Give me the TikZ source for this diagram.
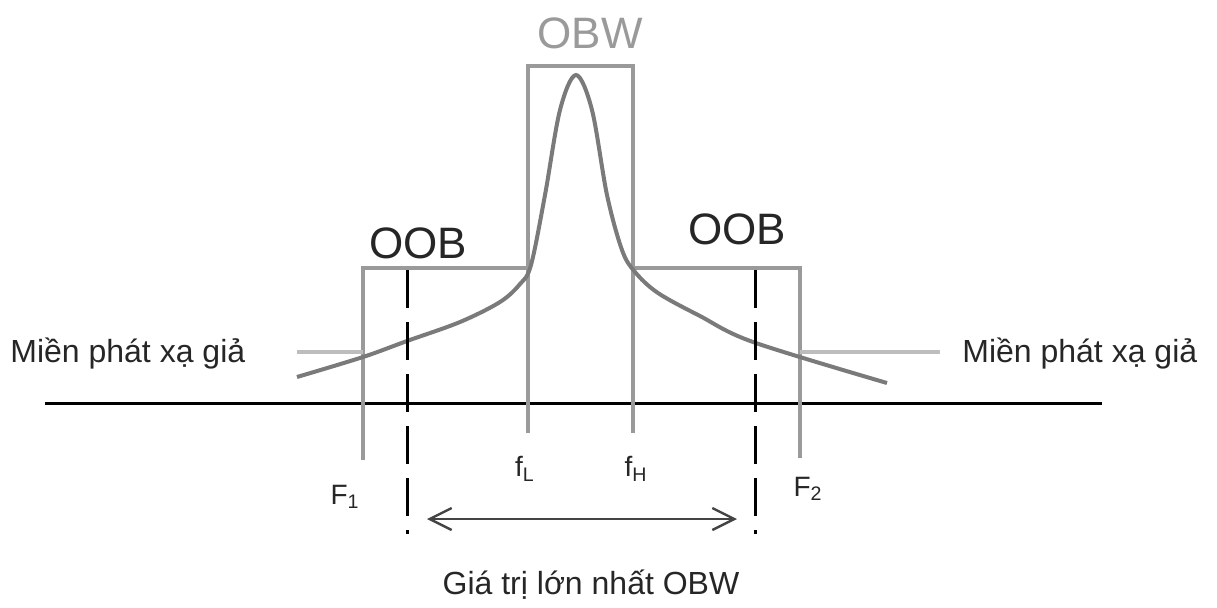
\documentclass[tikz,border=0pt]{standalone}
\usepackage{fontspec}
\setmainfont{Liberation Sans}
\usetikzlibrary{positioning, arrows.meta, calc}
\definecolor{lgray}{HTML}{BDBDBD}
\definecolor{mgray}{HTML}{9A9A9A}
\definecolor{cgray}{HTML}{7A7A7A}
\definecolor{agray}{HTML}{444444}

\begin{document}
\begin{tikzpicture}[x=0.5pt, y=-0.5pt,
      lbl/.style={inner sep=0pt, text=black!85, font=\fontsize{16}{18}\selectfont},
      fq/.style={inner sep=0pt, text=black!85, font=\fontsize{14}{16}\selectfont},
      band/.style={draw=mgray, line width=1.6pt},
      spur/.style={draw=lgray, line width=1.6pt},
      edge/.style={draw=black, line width=1.5pt, dash pattern=on 19pt off 7pt}]
    \useasboundingbox (0,0) rectangle (1217,607);
    % frequency axis
    \draw[line width=1.5pt] (45,403) -- (1102,403);
    % mask: OBW box and OOB shelves
    \draw[band] (363,460) -- (363,268) -- (528,268);
    \draw[band] (528,433) -- (528,66) -- (633,66) -- (633,433);
    \draw[band] (633,268) -- (800,268) -- (800,458);
    % spurious domain
    \draw[spur] (297,352) -- (363,352);
    \draw[spur] (800,352) -- (940,352);
    % emission curve
    \draw[cgray, line width=2pt] plot[smooth, tension=0.55] coordinates {
      (297,377) (363,357) (407,341) (460,322) (500,302) (520,284) (531,265)
      (545,195) (560,110) (576,75) (592,110) (607,195) (622,250) (635,272)
      (658,293) (700,316) (753,342) (887,383)};
    % OOB limits
    \coordinate (dl) at (407,270); \coordinate (dlb) at (407,534);
    \coordinate (dr) at (755,270); \coordinate (drb) at (755,534);
    \draw[edge] (dl) -- (dlb);
    \draw[edge] (dr) -- (drb);
    \coordinate (al) at (427,519); \coordinate (ar) at (737,519);
    \draw[agray, line width=1.2pt, {Straight Barb[length=11pt,width=11pt]}-{Straight Barb[length=11pt,width=11pt]}] (al) -- (ar);
    % labels
    \node[inner sep=0pt, text=mgray, font=\fontsize{22}{26}\selectfont] (obw) at (590,33) {OBW};
    \node[lbl, font=\fontsize{22}{24}\selectfont] (oobl) at (418,243) {OOB};
    \node[lbl, font=\fontsize{22}{24}\selectfont] (oobr) at (737,229) {OOB};
    \node[lbl, anchor=west] (spl) at (10,354) {Miền phát xạ giả};
    \node[lbl, anchor=west] (spr) at (962,354) {Miền phát xạ giả};
    \node[fq] (F1) at (345,497) {F\textsubscript{1}};
    \node[fq] (fL) at (525,469) {f\textsubscript{L}};
    \node[fq] (fH) at (636,469) {f\textsubscript{H}};
    \node[fq] (F2) at (808,489) {F\textsubscript{2}};
    \node[lbl] (max) at (591,585) {Giá trị lớn nhất OBW};
\end{tikzpicture}
\end{document}
